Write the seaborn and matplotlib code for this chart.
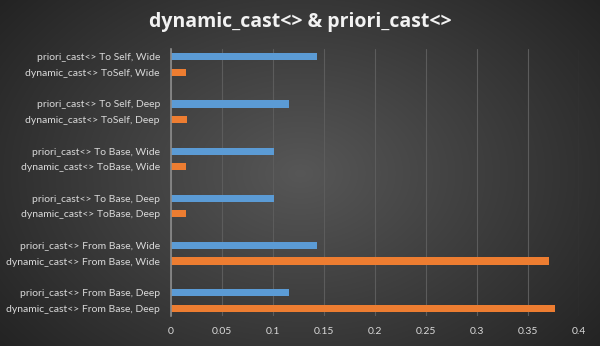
import numpy as np
import pandas as pd
import matplotlib
matplotlib.use("Agg")
import matplotlib.pyplot as plt
import seaborn as sns

labels = [
    "priori_cast<> To Self, Wide", "dynamic_cast<> ToSelf, Wide",
    "priori_cast<> To Self, Deep", "dynamic_cast<> ToSelf, Deep",
    "priori_cast<> To Base, Wide", "dynamic_cast<> ToBase, Wide",
    "priori_cast<> To Base, Deep", "dynamic_cast<> ToBase, Deep",
    "priori_cast<> From Base, Wide", "dynamic_cast<> From Base, Wide",
    "priori_cast<> From Base, Deep", "dynamic_cast<> From Base, Deep",
]
values = [0.143, 0.015, 0.116, 0.016, 0.101, 0.015,
          0.101, 0.015, 0.143, 0.371, 0.116, 0.376]
series = ["priori", "dynamic"] * 6
xticks = [0, 0.05, 0.1, 0.15, 0.2, 0.25, 0.3, 0.35, 0.4]
xticklabels = ["0", "0.05", "0.1", "0.15", "0.2", "0.25", "0.3", "0.35", "0.4"]

df = pd.DataFrame({"label": labels, "value": values, "series": series})

# category order with blank spacer slots between groups
order = []
for i in range(6):
    order += [labels[2 * i], labels[2 * i + 1]]
    if i < 5:
        order.append(" " * (i + 1))

sns.set_theme(style="dark")
plt.rcParams["font.family"] = ["Lato", "DejaVu Sans"]

fig = plt.figure(figsize=(6, 3.46), dpi=100)

# radial gradient background
bg = fig.add_axes([0, 0, 1, 1], zorder=-10)
yy, xx = np.mgrid[0:346, 0:600]
r = np.sqrt(((xx - 300) / 420.0) ** 2 + ((yy - 173) / 300.0) ** 2)
g = np.clip(0.34 - 0.22 * r, 0.1, 0.36)
img = np.dstack([g, g, g])
bg.imshow(img, aspect="auto", extent=[0, 1, 0, 1], origin="upper")
bg.set_axis_off()

ax = fig.add_axes([171 / 600, 30 / 346, 408 / 600, 267 / 346])
ax.patch.set_alpha(0)

palette = {"priori": "#5B9BD5", "dynamic": "#ED7D31"}
sns.barplot(data=df, y="label", x="value", hue="series", order=order,
            palette=palette, dodge=False, width=0.45, ax=ax, legend=False,
            saturation=1, linewidth=0, zorder=3)

ax.set_xlim(0, 0.4)
ax.set_ylim(16.5, -0.5)
ax.set_xticks(xticks)
ax.set_xticklabels(xticklabels)
ax.set_xlabel("")
ax.set_ylabel("")
ax.grid(axis="x", color="#5c5c5c", linewidth=0.8, zorder=0)
ax.grid(axis="y", visible=False)
for s in ["top", "right", "bottom"]:
    ax.spines[s].set_visible(False)
ax.spines["left"].set_color("#8c8c8c")
ax.spines["left"].set_linewidth(1.2)
ax.spines["left"].set_zorder(4)
ax.tick_params(axis="both", length=0, colors="#d9d9d9", labelsize=7.5, pad=8)
for t in ax.get_yticklabels():
    t.set_color("#d9d9d9")

fig.text(0.5, 0.935, "dynamic_cast<> & priori_cast<>", ha="center", va="center",
         color="#f2f2f2", fontsize=14, fontweight="bold",
         family=["Open Sans", "DejaVu Sans"])

fig.savefig("out.png", dpi=100)
